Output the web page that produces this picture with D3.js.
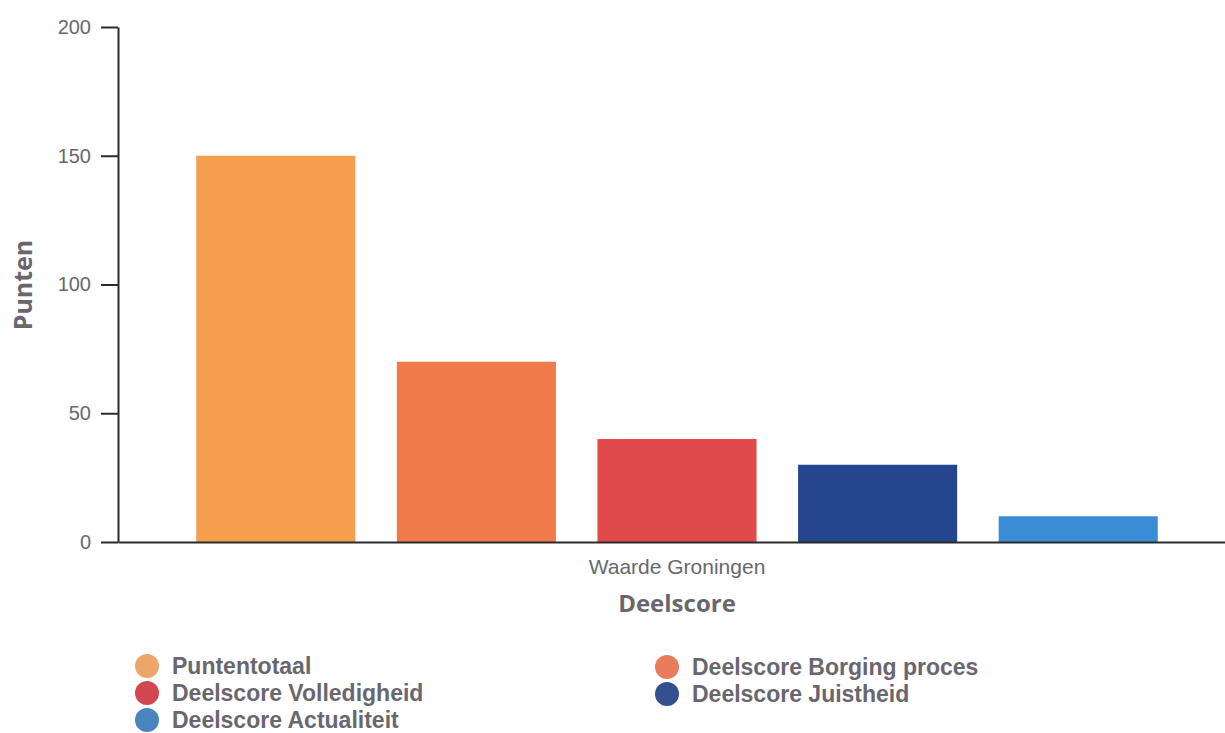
<!DOCTYPE html>
<html>
<head>
<meta charset="utf-8">
<script src="https://cdn.jsdelivr.net/npm/d3@7/dist/d3.min.js"></script>
<style>
  html, body { margin: 0; padding: 0; background: #ffffff; }
  svg { display: block; }
</style>
</head>
<body>
<svg id="chart" width="1225" height="733"></svg>
<script>
// ---- data ----
const categories = ["Waarde Groningen"];
const seriesNames = ["Puntentotaal", "Deelscore Borging proces", "Deelscore Volledigheid", "Deelscore Juistheid", "Deelscore Actualiteit"];
const seriesValues = [150, 70, 40, 30, 10];
const barColors = ["#f49f4d", "#f07a4c", "#e04a4b", "#23468f", "#3a8dd4"];
const legendColors = ["#eea56a", "#e97c5c", "#d2474f", "#34508f", "#4a84bd"];
const yTicks = [0, 50, 100, 150, 200];
const yTitle = "Punten";
const xTitle = "Deelscore";

// ---- layout ----
const svg = d3.select("#chart");
const plotLeft = 118, plotRight = 1236, plotTop = 27, plotBottom = 542;

const y = d3.scaleLinear().domain([0, 200]).range([plotBottom, plotTop]);
const x0 = d3.scaleBand().domain(categories).range([plotLeft, plotRight]).paddingOuter(0.0573).paddingInner(0);
const x1 = d3.scaleBand().domain(seriesNames).range([0, x0.bandwidth()]).paddingInner(0.207).paddingOuter(0.1035);

const textGray = "#6a666e";

// bars
const g = svg.append("g");
categories.forEach(cat => {
  g.selectAll("rect.bar")
    .data(seriesNames.map((s, i) => ({ s, v: seriesValues[i], c: barColors[i] })))
    .enter().append("rect")
    .attr("class", "bar")
    .attr("x", d => x0(cat) + x1(d.s))
    .attr("width", x1.bandwidth())
    .attr("y", d => y(d.v))
    .attr("height", d => y(0) - y(d.v))
    .attr("fill", d => d.c);
});

// y axis
const yAxis = svg.append("g")
  .attr("transform", `translate(${plotLeft},0)`)
  .call(d3.axisLeft(y).tickValues(yTicks).tickSize(17).tickPadding(10).tickSizeOuter(0));
yAxis.select(".domain").attr("stroke", "#2b2b2b").attr("stroke-width", 2);
yAxis.selectAll(".tick line").attr("stroke", "#2b2b2b").attr("stroke-width", 2);
yAxis.selectAll(".tick text")
  .attr("fill", textGray)
  .style("font-family", "'Liberation Sans', Arial, sans-serif")
  .style("font-size", "20px");

// x axis
const xAxis = svg.append("g")
  .attr("transform", `translate(0,${plotBottom})`)
  .call(d3.axisBottom(x0).tickSize(0).tickPadding(17).tickSizeOuter(0));
xAxis.select(".domain").attr("stroke", "#2b2b2b").attr("stroke-width", 2);
xAxis.selectAll(".tick text")
  .attr("fill", textGray)
  .style("font-family", "'Liberation Sans', Arial, sans-serif")
  .style("font-size", "21px");

// axis titles
svg.append("text")
  .attr("transform", `translate(32,285) rotate(-90)`)
  .attr("text-anchor", "middle")
  .attr("fill", textGray)
  .style("font-family", "'Open Sans', sans-serif")
  .style("font-weight", "700")
  .style("font-size", "25px")
  .text(yTitle);

svg.append("text")
  .attr("x", (plotLeft + plotRight) / 2)
  .attr("y", 612)
  .attr("text-anchor", "middle")
  .attr("fill", textGray)
  .style("font-family", "'Open Sans', sans-serif")
  .style("font-weight", "700")
  .style("font-size", "24px")
  .text(xTitle);

// legend
const legendPos = [
  { cx: 147, cy: 666 }, { cx: 667, cy: 667 },
  { cx: 147, cy: 693 }, { cx: 667, cy: 694 },
  { cx: 147, cy: 720 }
];
const lg = svg.append("g");
seriesNames.forEach((s, i) => {
  const p = legendPos[i];
  lg.append("circle").attr("cx", p.cx).attr("cy", p.cy).attr("r", 12).attr("fill", legendColors[i]);
  lg.append("text")
    .attr("x", p.cx + 25)
    .attr("y", p.cy + 8)
    .attr("fill", textGray)
    .style("font-family", "'Liberation Sans', Arial, sans-serif")
    .style("font-weight", "700")
    .style("font-size", "23px")
    .text(s);
});
</script>
</body>
</html>
